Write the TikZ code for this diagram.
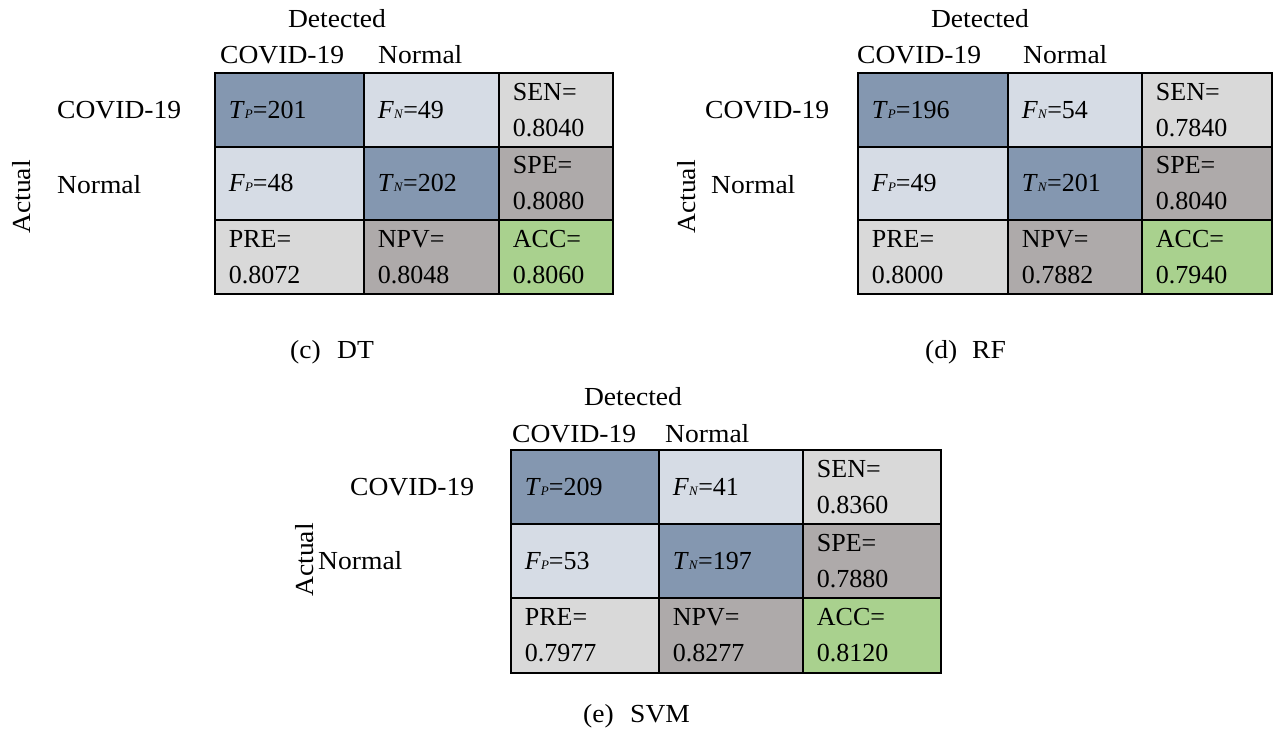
\documentclass[tikz,border=0pt]{standalone}
\usepackage{fontspec}
\setmainfont{Liberation Serif}
\newfontfamily\widefont[FakeStretch=1.06]{Liberation Serif}
\definecolor{dblue}{HTML}{8497B0}
\definecolor{lblue}{HTML}{D6DCE5}
\definecolor{lgray}{HTML}{D9D9D9}
\definecolor{dgray}{HTML}{AEAAAA}
\definecolor{lgreen}{HTML}{A9D18E}
\newcommand\sbs[1]{{\fontsize{13}{13}\selectfont\textit{#1}}}
\newcommand\cmcell[8]{\node[cellbox, fill=#7, minimum width=#4pt, text width=#5pt, minimum height=#6pt] (#1) at (#2,#3) {#8};}
\tikzset{
  txt/.style={font=\widefont\fontsize{26}{36}\selectfont, inner sep=0pt},
  cellbox/.style={draw=black, line width=1.8pt, anchor=north west, inner xsep=14pt, inner ysep=0pt, align=left, font=\fontsize{26}{36}\selectfont},
}
\begin{document}
\begin{tikzpicture}[x=1pt,y=-1pt]
\useasboundingbox (0,0) rectangle (1274,747);
% ---------- panel c ----------
\cmcell{c11}{214}{72}{149}{121}{74}{dblue}{\textit{T}\sbs{P}=201}
\cmcell{c12}{363}{72}{135}{107}{74}{lblue}{\textit{F}\sbs{N}=49}
\cmcell{c13}{498}{72}{114}{86}{74}{lgray}{SEN=\\0.8040}
\cmcell{c21}{214}{146}{149}{121}{73}{lblue}{\textit{F}\sbs{P}=48}
\cmcell{c22}{363}{146}{135}{107}{73}{dblue}{\textit{T}\sbs{N}=202}
\cmcell{c23}{498}{146}{114}{86}{73}{dgray}{SPE=\\0.8080}
\cmcell{c31}{214}{219}{149}{121}{74}{lgray}{PRE=\\0.8072}
\cmcell{c32}{363}{219}{135}{107}{74}{dgray}{NPV=\\0.8048}
\cmcell{c33}{498}{219}{114}{86}{74}{lgreen}{ACC=\\0.8060}
\node[txt, anchor=base] (cdet) at (337,27) {Detected};
\node[txt, anchor=base west] (ch1) at (220,63) {COVID-19};
\node[txt, anchor=base west] (ch2) at (378,63) {Normal};
\node[txt, anchor=base west] (cr1) at (57,118) {COVID-19};
\node[txt, anchor=base west] (cr2) at (57,193) {Normal};
\node[txt, rotate=90] (cact) at (22,197) {Actual};
\node[txt, anchor=base west] (ccap) at (290,358) {(c)};
\node[txt, anchor=base west] (ccapt) at (337,358) {DT};
% ---------- panel d ----------
\cmcell{d11}{857}{72}{150}{122}{74}{dblue}{\textit{T}\sbs{P}=196}
\cmcell{d12}{1007}{72}{134}{106}{74}{lblue}{\textit{F}\sbs{N}=54}
\cmcell{d13}{1141}{72}{130}{102}{74}{lgray}{SEN=\\0.7840}
\cmcell{d21}{857}{146}{150}{122}{73}{lblue}{\textit{F}\sbs{P}=49}
\cmcell{d22}{1007}{146}{134}{106}{73}{dblue}{\textit{T}\sbs{N}=201}
\cmcell{d23}{1141}{146}{130}{102}{73}{dgray}{SPE=\\0.8040}
\cmcell{d31}{857}{219}{150}{122}{74}{lgray}{PRE=\\0.8000}
\cmcell{d32}{1007}{219}{134}{106}{74}{dgray}{NPV=\\0.7882}
\cmcell{d33}{1141}{219}{130}{102}{74}{lgreen}{ACC=\\0.7940}
\node[txt, anchor=base] (ddet) at (980,27) {Detected};
\node[txt, anchor=base west] (dh1) at (857,63) {COVID-19};
\node[txt, anchor=base west] (dh2) at (1023,63) {Normal};
\node[txt, anchor=base west] (dr1) at (705,118) {COVID-19};
\node[txt, anchor=base west] (dr2) at (711,193) {Normal};
\node[txt, rotate=90] (dact) at (687,197) {Actual};
\node[txt, anchor=base west] (dcap) at (925,358) {(d)};
\node[txt, anchor=base west] (dcapt) at (972,358) {RF};
% ---------- panel e ----------
\cmcell{e11}{510}{449}{148}{120}{74}{dblue}{\textit{T}\sbs{P}=209}
\cmcell{e12}{658}{449}{144}{116}{74}{lblue}{\textit{F}\sbs{N}=41}
\cmcell{e13}{802}{449}{138}{110}{74}{lgray}{SEN=\\0.8360}
\cmcell{e21}{510}{523}{148}{120}{74}{lblue}{\textit{F}\sbs{P}=53}
\cmcell{e22}{658}{523}{144}{116}{74}{dblue}{\textit{T}\sbs{N}=197}
\cmcell{e23}{802}{523}{138}{110}{74}{dgray}{SPE=\\0.7880}
\cmcell{e31}{510}{597}{148}{120}{75}{lgray}{PRE=\\0.7977}
\cmcell{e32}{658}{597}{144}{116}{75}{dgray}{NPV=\\0.8277}
\cmcell{e33}{802}{597}{138}{110}{75}{lgreen}{ACC=\\0.8120}
\node[txt, anchor=base] (edet) at (633,405) {Detected};
\node[txt, anchor=base west] (eh1) at (512,442) {COVID-19};
\node[txt, anchor=base west] (eh2) at (665,442) {Normal};
\node[txt, anchor=base west] (er1) at (350,495) {COVID-19};
\node[txt, anchor=base west] (er2) at (318,569) {Normal};
\node[txt, rotate=90] (eact) at (305,560) {Actual};
\node[txt, anchor=base west] (ecap) at (583,722) {(e)};
\node[txt, anchor=base west] (ecapt) at (630,722) {SVM};
\end{tikzpicture}
\end{document}
